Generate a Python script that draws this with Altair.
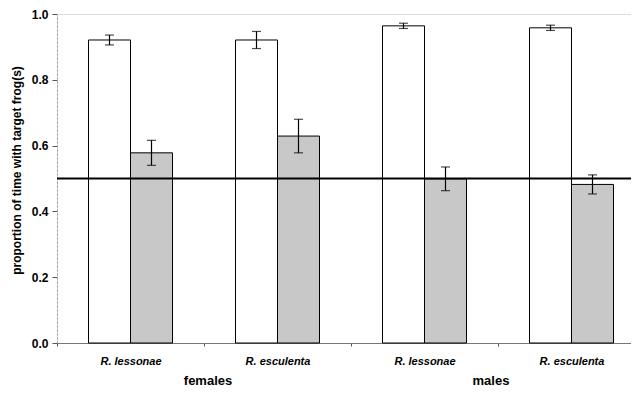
import altair as alt
import pandas as pd

# ---- data ----
groups = ["females: R. lessonae", "females: R. esculenta",
          "males: R. lessonae", "males: R. esculenta"]
conditions = ["open", "stippled"]
open_means = [0.921, 0.921, 0.964, 0.958]
open_errs = [0.015, 0.026, 0.008, 0.008]
stip_means = [0.578, 0.629, 0.499, 0.482]
stip_errs = [0.038, 0.051, 0.036, 0.029]
sex_labels = ["females", "males"]
sex_anchor = ["females: R. lessonae", "males: R. lessonae"]
reference = [0.5]
y_ticks = [0.0, 0.2, 0.4, 0.6, 0.8, 1.0]

rows = []
for cond, means, errs in [("open", open_means, open_errs), ("stippled", stip_means, stip_errs)]:
    for g, m, e in zip(groups, means, errs):
        rows.append(dict(group=g, cond=cond, mean=m, lo=m - e, hi=m + e))
df = pd.DataFrame(rows)

FONT = "Liberation Sans"

xscale = alt.Scale(domain=groups, range=[0, 588], paddingInner=0, paddingOuter=0)
offscale = alt.Scale(domain=conditions, paddingInner=0, paddingOuter=0.75)
yscale = alt.Scale(domain=[0, 1], nice=False, zero=True)

xaxis = alt.Axis(labelExpr="split(datum.label, ': ')[1]", title=None,
                 labelFont=FONT, labelFontSize=11, labelFontStyle="italic",
                 labelFontWeight="bold", labelColor="black", labelAngle=0,
                 tickBand="extent", tickSize=3, tickColor="#555",
                 domainColor="#777", domainWidth=1, labelPadding=9)
yaxis = alt.Axis(values=y_ticks, format=".1f", grid=False,
                 labelFont=FONT, labelFontSize=12, labelFontWeight="bold",
                 labelColor="black", labelPadding=4,
                 tickSize=5, tickColor="#555", domainColor="#999",
                 domainDash=[2, 2],
                 title="proportion of time with target frog(s)",
                 titleFont=FONT, titleFontSize=12, titleFontWeight="bold",
                 titleColor="black", titleX=-41, titleY=156,
                 titleAngle=-90, titleAlign="center", titleBaseline="middle")

X = alt.X("group:N", scale=xscale, sort=groups, axis=xaxis)
XO = alt.XOffset("cond:N", scale=offscale, sort=conditions)


def Y(field):
    return alt.Y(field, scale=yscale, axis=yaxis, title="proportion of time with target frog(s)")


base = alt.Chart(df)

bars = base.mark_bar(stroke="black", strokeWidth=1).encode(
    x=X, xOffset=XO, y=Y("mean:Q"),
    fill=alt.Fill("cond:N", scale=alt.Scale(domain=conditions, range=["white", "#c8c8c8"]),
                  legend=None),
)

err = base.mark_rule(color="black", strokeWidth=1.2).encode(
    x=X, xOffset=XO, y=Y("lo:Q"), y2="hi:Q",
)
cap_hi = base.mark_tick(orient="horizontal", size=9, thickness=1.2, color="black").encode(
    x=X, xOffset=XO, y=Y("hi:Q"),
)
cap_lo = base.mark_tick(orient="horizontal", size=9, thickness=1.2, color="black").encode(
    x=X, xOffset=XO, y=Y("lo:Q"),
)

ref_line = alt.Chart(pd.DataFrame({"ref": reference})).mark_rule(
    color="black", strokeWidth=2).encode(y=Y("ref:Q"))

sex_df = pd.DataFrame({"group": sex_anchor, "label": sex_labels})
sex_f = alt.Chart(sex_df.iloc[[0]]).mark_text(
    font=FONT, fontSize=13, fontWeight="bold", baseline="middle", align="center", dx=4,
    color="black").encode(
    x=alt.X("group:N", scale=xscale, sort=groups, axis=xaxis, bandPosition=1),
    y=alt.value(367), text="label:N")
sex_m = alt.Chart(sex_df.iloc[[1]]).mark_text(
    font=FONT, fontSize=13, fontWeight="bold", baseline="middle", align="center", dx=-7,
    color="black").encode(
    x=alt.X("group:N", scale=xscale, sort=groups, axis=xaxis, bandPosition=1),
    y=alt.value(367), text="label:N")

chart = alt.layer(bars, ref_line, err, cap_hi, cap_lo, sex_f, sex_m).properties(
    width=574, height=329,
    autosize=alt.AutoSizeParams(type="none"),
    padding={"left": 49, "top": 6, "right": 0, "bottom": 44},
).configure_view(strokeWidth=0).configure(background="white")

chart.save("out.html", embed_options={"renderer": "svg", "actions": False})
